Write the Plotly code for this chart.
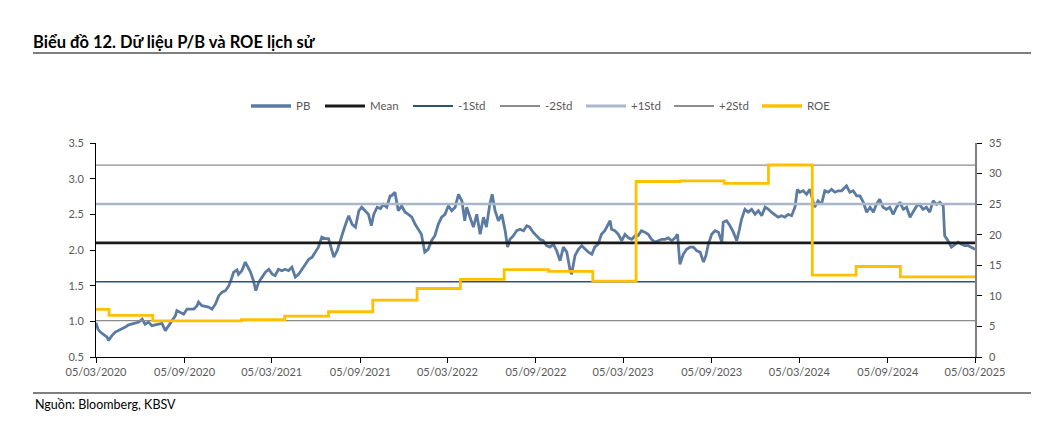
import pandas as pd
import plotly.graph_objects as go

# ---------------- data ----------------
start_date = "2020-03-05"
end_date = "2025-03-05"

# PB readings: day offset from start_date, P/B value
pb_day = [0, 4, 9, 16, 23, 26, 33, 40, 47, 54, 61, 68, 75, 82, 89, 96, 102, 109, 116, 123,
          130, 137, 144, 151, 158, 165, 168, 175, 182, 189, 196, 203, 210, 213, 220, 227, 234,
          241, 248, 255, 262, 269, 276, 281, 286, 293, 296, 303, 310, 314, 321, 327, 332, 338,
          345, 352, 359, 366, 372, 379, 386, 393, 400, 407, 414, 421, 428, 435, 442, 449, 456,
          462, 469, 476, 483, 490, 494, 501, 507, 514, 521, 525, 532, 539, 546, 552, 559, 566,
          572, 577, 584, 591, 597, 604, 611,
          614, 621, 624, 628, 635, 642, 649, 656, 663, 670, 676, 683, 690, 697, 704, 711, 718,
          725, 732, 739, 746, 753, 760, 766, 770, 777, 784, 791, 798, 805, 811, 818, 823, 829,
          836, 843, 850, 855, 860, 867, 874, 881, 888, 895, 901, 908, 915, 922, 929, 936, 943,
          950, 957, 964, 971, 978, 985, 988, 995, 1002, 1009, 1016, 1023, 1030, 1036, 1043,
          1050, 1057, 1064, 1068, 1071, 1078, 1085, 1092, 1099, 1106, 1113, 1120, 1126, 1133,
          1140, 1147, 1154, 1161, 1168, 1175, 1182, 1189, 1196, 1203, 1208, 1213,
          1220, 1227, 1234, 1241, 1248, 1255, 1262, 1267, 1272, 1279, 1286, 1293, 1300, 1303,
          1310, 1317, 1324, 1331, 1336, 1341, 1348, 1355, 1362, 1369, 1376, 1383, 1390, 1397,
          1403, 1410, 1417, 1424, 1431, 1438, 1445, 1452, 1457, 1462, 1469, 1476, 1483, 1490,
          1493, 1500, 1507, 1514, 1521, 1528, 1535, 1542, 1549, 1556, 1559, 1566, 1573, 1580,
          1587, 1594, 1601, 1608, 1615, 1621, 1628, 1635, 1642, 1649, 1656, 1663, 1670, 1677,
          1684, 1691, 1698, 1705, 1711, 1718, 1725, 1732, 1739, 1746, 1753, 1760, 1763, 1770,
          1777, 1784, 1791, 1798, 1805, 1812, 1819, 1826]
pb_values = [0.98, 0.89, 0.85, 0.81, 0.78, 0.73, 0.80, 0.85, 0.87, 0.89, 0.92, 0.95, 0.96, 0.97,
             0.99, 1.03, 0.96, 0.99, 0.94, 0.95, 0.96, 0.97, 0.87, 0.94, 1.01, 1.08, 1.15, 1.13,
             1.10, 1.17, 1.17, 1.17, 1.22, 1.27, 1.22, 1.21, 1.20, 1.17, 1.24, 1.36, 1.41, 1.43,
             1.50, 1.59, 1.69, 1.72, 1.66, 1.71, 1.83, 1.78, 1.69, 1.57, 1.43, 1.55, 1.62, 1.69,
             1.73, 1.66, 1.64, 1.73, 1.71, 1.73, 1.71, 1.76, 1.62, 1.66, 1.73, 1.80, 1.87, 1.90,
             1.97, 2.04, 2.18, 2.16, 2.16, 1.99, 1.90, 1.99, 2.13, 2.27, 2.41, 2.48, 2.36, 2.32,
             2.55, 2.60, 2.55, 2.50, 2.34, 2.50, 2.60, 2.58, 2.64, 2.60, 2.76,
             2.76, 2.81, 2.69, 2.55, 2.62, 2.53, 2.50, 2.46, 2.36, 2.29, 2.22, 1.97, 2.01, 2.13,
             2.20, 2.36, 2.46, 2.50, 2.62, 2.55, 2.60, 2.78, 2.69, 2.41, 2.60, 2.46, 2.32, 2.50,
             2.22, 2.46, 2.32, 2.64, 2.78, 2.55, 2.41, 2.50, 2.27, 2.04, 2.15, 2.20, 2.27, 2.29,
             2.27, 2.34, 2.32, 2.25, 2.20, 2.15, 2.13, 2.06, 2.04, 2.08, 1.99, 1.85, 2.04, 1.97,
             1.71, 1.66, 1.92, 2.01, 2.06, 2.01, 1.97, 1.94, 2.04, 2.08, 2.22, 2.27, 2.36, 2.41,
             2.29, 2.27, 2.22, 2.13, 2.22, 2.17, 2.15, 2.20, 2.20, 2.27, 2.25, 2.22, 2.15, 2.11,
             2.13, 2.15, 2.15, 2.17, 2.13, 2.17, 2.22, 1.80,
             1.94, 2.01, 2.04, 2.04, 1.99, 1.97, 1.83, 1.92, 2.08, 2.22, 2.27, 2.25, 2.11, 2.39,
             2.41, 2.34, 2.25, 2.13, 2.27, 2.43, 2.57, 2.53, 2.57, 2.50, 2.55, 2.48, 2.60, 2.57,
             2.53, 2.50, 2.46, 2.48, 2.46, 2.50, 2.48, 2.60, 2.85, 2.81, 2.83, 2.78, 2.85, 2.67,
             2.60, 2.69, 2.64, 2.83, 2.81, 2.85, 2.81, 2.83, 2.83, 2.88, 2.90, 2.81, 2.83, 2.76,
             2.76, 2.67, 2.53, 2.60, 2.53, 2.64, 2.71, 2.60, 2.57, 2.60, 2.50, 2.60, 2.67, 2.57,
             2.60, 2.46, 2.55, 2.62, 2.64, 2.57, 2.60, 2.53, 2.69, 2.64, 2.67, 2.62, 2.20, 2.13,
             2.04, 2.08, 2.11, 2.08, 2.06, 2.06, 2.04, 2.01]

# statistics lines
pb_mean = 2.10
pb_std = 0.545

# ROE (%) quarterly steps
roe_dates = ["2020-03-05", "2020-04-01", "2020-07-01", "2021-01-01", "2021-04-01", "2021-07-01",
             "2021-10-01", "2022-01-01", "2022-04-01", "2022-07-01", "2022-10-01", "2023-01-01",
             "2023-04-01", "2023-07-01", "2023-10-01", "2024-01-01", "2024-04-01", "2024-07-01",
             "2024-10-01", "2025-03-05"]
roe_values = [7.8, 6.8, 5.9, 6.1, 6.7, 7.4, 9.3, 11.2, 12.7, 14.3, 14.0, 12.4,
              28.7, 28.8, 28.4, 31.4, 13.4, 14.8, 13.1, 13.1]

x_tick_dates = ["2020-03-05", "2020-09-05", "2021-03-05", "2021-09-05", "2022-03-05",
                "2022-09-05", "2023-03-05", "2023-09-05", "2024-03-05", "2024-09-05",
                "2025-03-05"]
x_tick_labels = ["05/03/2020", "05/09/2020", "05/03/2021", "05/09/2021", "05/03/2022",
                 "05/09/2022", "05/03/2023", "05/09/2023", "05/03/2024", "05/09/2024",
                 "05/03/2025"]

title_text = "Biểu đồ 12. Dữ liệu P/B và ROE lịch sử"
source_text = "Nguồn: Bloomberg, KBSV"

# ---------------- figure ----------------
t0 = pd.Timestamp(start_date)
pb_dates = t0 + pd.to_timedelta(pb_day, unit="D")
span = [start_date, end_date]

FONT = "Lato, 'Noto Sans', sans-serif"
TXT = "#595959"

# page body has an 8px margin; figure is sized/placed so plot area sits at x 96-975, y 143-357
W, H = 1031, 433
L, R, T, B = 88, 64, 135, 84
PX0, PW, PY1, PH = 96, 879, 357, 214


def px_x(px):
    return (px - PX0) / PW


def px_y(py):
    return (PY1 - py) / PH


series_style = [
    ("PB", "#5B7BA2", 2.8),
    ("Mean", "#1a1a1a", 2.6),
    ("-1Std", "#2E5276", 1.6),
    ("-2Std", "#8C8C8C", 1.2),
    ("+1Std", "#A9B7CA", 2.6),
    ("+2Std", "#8C8C8C", 1.2),
    ("ROE", "#FFC000", 2.8),
]
style = {n: (c, w) for n, c, w in series_style}

fig = go.Figure()
fig.add_trace(go.Scatter(x=pb_dates, y=pb_values, name="PB", mode="lines",
                         line=dict(color=style["PB"][0], width=style["PB"][1])))
for name, val in [("Mean", pb_mean), ("-1Std", pb_mean - pb_std), ("-2Std", pb_mean - 2 * pb_std),
                  ("+1Std", pb_mean + pb_std), ("+2Std", pb_mean + 2 * pb_std)]:
    fig.add_trace(go.Scatter(x=span, y=[val, val], name=name, mode="lines",
                             line=dict(color=style[name][0], width=style[name][1])))
fig.add_trace(go.Scatter(x=roe_dates, y=roe_values, name="ROE", mode="lines", yaxis="y2",
                         line=dict(color=style["ROE"][0], width=style["ROE"][1], shape="hv")))

fig.update_layout(
    width=W, height=H,
    margin=dict(l=L, r=R, t=T, b=B),
    paper_bgcolor="white", plot_bgcolor="white",
    font=dict(family=FONT, size=11, color=TXT),
    showlegend=False,
    title=dict(text="<b>" + title_text + "</b>", x=(33 - 8) / W, xanchor="left", xref="container",
               y=1 - (42 - 8) / H, yanchor="middle", yref="container",
               font=dict(family=FONT, size=16.5, color="#000000")),
    xaxis=dict(type="date", range=span, tickvals=x_tick_dates, ticktext=x_tick_labels,
               showgrid=False, zeroline=False, showline=True, linecolor="#000000", linewidth=1,
               ticks="outside", ticklen=5, tickcolor="#000000",
               tickfont=dict(family=FONT, size=11, color=TXT)),
    yaxis=dict(range=[0.5, 3.5], dtick=0.5, tick0=0.5, tickformat=".1f", showgrid=False,
               zeroline=False, showline=True, linecolor="#000000", linewidth=1,
               ticks="outside", ticklen=5, tickcolor="#000000", ticklabelstandoff=4,
               tickfont=dict(family=FONT, size=11, color=TXT)),
    yaxis2=dict(range=[0, 35], dtick=5, tick0=0, overlaying="y", side="right", showgrid=False,
                zeroline=False, showline=True, linecolor="#7F7F7F", linewidth=1.5,
                ticks="outside", ticklen=5, tickcolor="#000000", ticklabelstandoff=5,
                tickfont=dict(family=FONT, size=11, color=TXT)),
)

# custom legend (40px line samples)
legend_x = [251, 325, 413, 500, 586, 674, 762]
legend_y = 106
for (name, color, width), lx in zip(series_style, legend_x):
    fig.add_shape(type="line", xref="paper", yref="paper", x0=px_x(lx), x1=px_x(lx + 40),
                  y0=px_y(legend_y), y1=px_y(legend_y), line=dict(color=color, width=width + 0.6))
    fig.add_annotation(text=name, xref="paper", yref="paper", x=px_x(lx + 43), y=px_y(legend_y),
                       xanchor="left", yanchor="middle", showarrow=False,
                       font=dict(family=FONT, size=11.5, color=TXT))

# title underline and footer rule
fig.add_shape(type="line", xref="paper", yref="paper", x0=px_x(33), x1=px_x(1034),
              y0=px_y(53), y1=px_y(53), line=dict(color="#000000", width=1.2))
fig.add_shape(type="line", xref="paper", yref="paper", x0=px_x(33), x1=px_x(1034),
              y0=px_y(393), y1=px_y(393), line=dict(color="#000000", width=1.2))
fig.add_annotation(text=source_text, xref="paper", yref="paper", x=px_x(33),
                   y=px_y(404), xanchor="left", yanchor="middle", showarrow=False,
                   font=dict(family=FONT, size=12.5, color="#000000"))

fig.write_html("out.html")
